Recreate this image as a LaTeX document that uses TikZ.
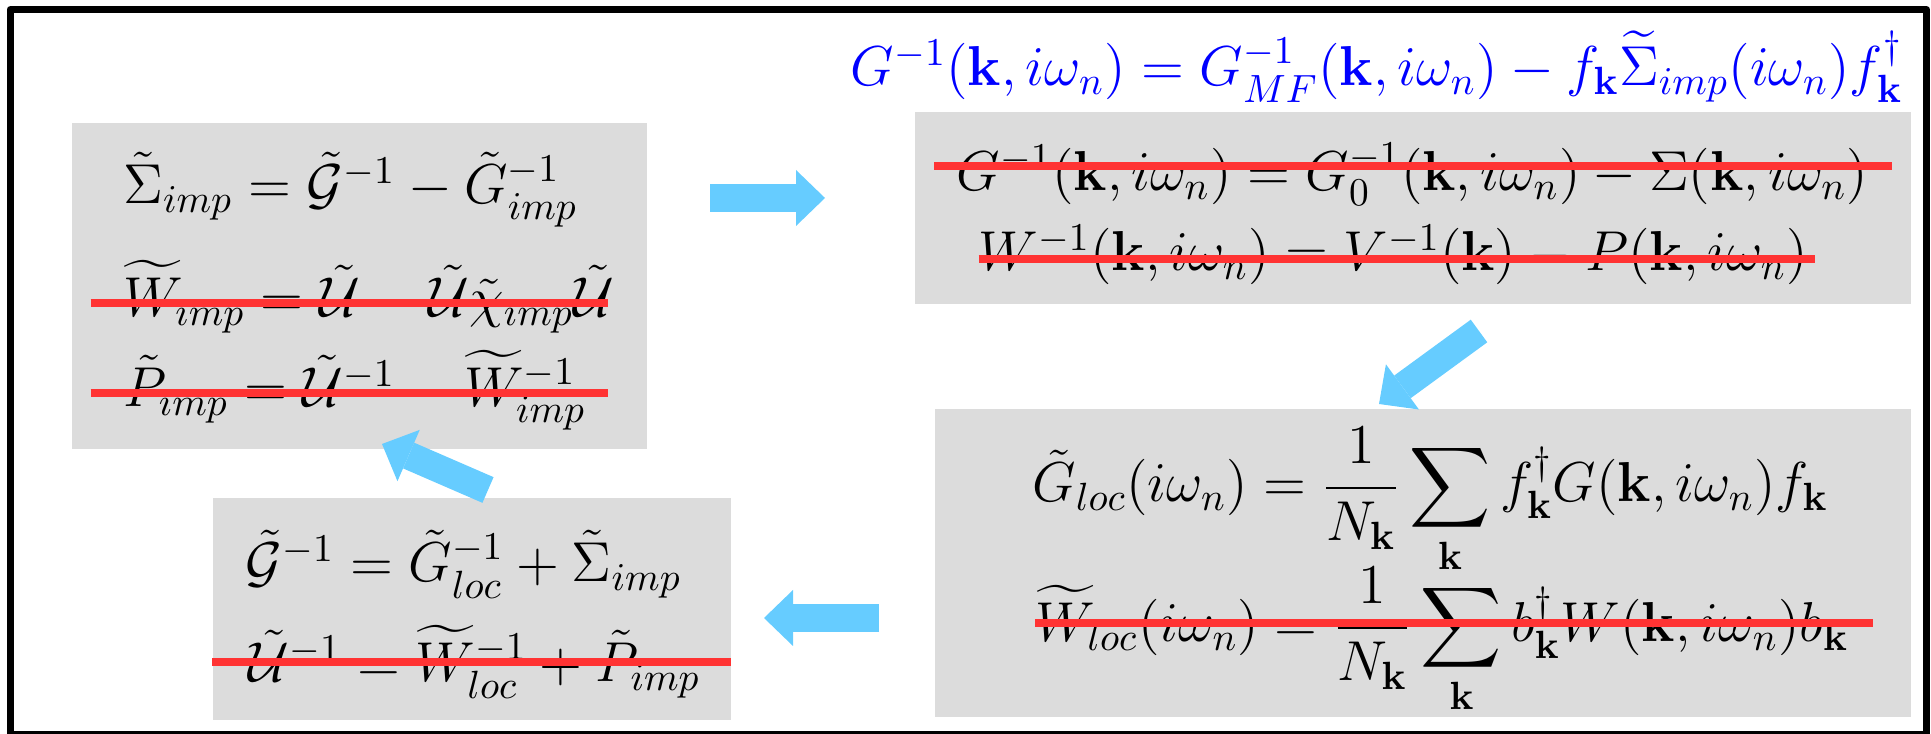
\RequirePackage{fix-cm}
\documentclass[tikz,border=0pt]{standalone}
\usepackage{amsmath,amssymb}
\usepackage{tikz}
\usetikzlibrary{arrows.meta,positioning,calc}
\usepackage{xcolor}
\definecolor{boxgray}{HTML}{DCDCDC}
\definecolor{strikered}{HTML}{FF3333}
\definecolor{flowblue}{HTML}{66CCFF}
\definecolor{eqblue}{HTML}{0000FF}
\newcommand{\kk}{\mathbf{k}}
\newcommand{\eqfont}{\fontsize{16}{19}\selectfont}

\begin{document}
\begin{tikzpicture}[
    box/.style={fill=boxgray,inner sep=0pt,anchor=north west},
    eq/.style={inner sep=0pt,anchor=base west,font=\eqfont},
    strike/.style={draw=strikered,line width=0.08cm},
    flow/.style={draw=flowblue,line width=0.28cm,-{Triangle[length=0.29cm,width=0.56cm,line width=0pt]}}
]
\useasboundingbox (0,0) rectangle (19.31,-7.34);
\draw[line width=0.07cm,line join=round] (0.10,-0.097) rectangle (19.265,-7.345);
% boxes
\node[box,minimum width=5.744cm,minimum height=3.256cm] (imp) at (0.716,-1.227) {};
\node[box,minimum width=9.96cm,minimum height=1.92cm] (lattice) at (9.14,-1.11) {};
\node[box,minimum width=9.76cm,minimum height=3.08cm] (local) at (9.34,-4.08) {};
\node[box,minimum width=5.18cm,minimum height=2.22cm] (weiss) at (2.12,-4.97) {};
% lattice Dyson equation
\node[eq,anchor=base east,text=eqblue] (dyson) at ([shift={(-0.08,0.25)}]lattice.north east)
  {$G^{-1}(\kk,i\omega_n) = G^{-1}_{MF}(\kk,i\omega_n) - f_{\kk}\widetilde{\Sigma}_{imp}(i\omega_n)f^{\dagger}_{\kk}$};
% impurity box
\node[eq] (imp1) at ([shift={(0.51,-0.81)}]imp.north west) {$\tilde{\Sigma}_{imp} = \tilde{\mathcal{G}}^{-1} - \tilde{G}^{-1}_{imp}$};
\node[eq] (imp2) at ([shift={(0.51,-1.94)}]imp.north west) {$\widetilde{W}_{imp} = \tilde{\mathcal{U}} - \tilde{\mathcal{U}}\tilde{\chi}_{imp}\tilde{\mathcal{U}}$};
\node[eq] (imp3) at ([shift={(0.51,-2.84)}]imp.north west) {$\tilde{P}_{imp} = \tilde{\mathcal{U}}^{-1} - \widetilde{W}^{-1}_{imp}$};
% lattice box
\node[eq] (lat1) at ([shift={(0.42,-0.80)}]lattice.north west) {$G^{-1}(\kk,i\omega_n) = G^{-1}_{0}(\kk,i\omega_n) - \Sigma(\kk,i\omega_n)$};
\node[eq] (lat2) at ([shift={(0.64,-1.60)}]lattice.north west) {$W^{-1}(\kk,i\omega_n) = V^{-1}(\kk) - P(\kk,i\omega_n)$};
% local box
\node[eq] (loc1) at ([shift={(0.98,-0.94)}]local.north west) {$\displaystyle \tilde{G}_{loc}(i\omega_n) = \frac{1}{N_{\kk}}\sum_{\kk} f^{\dagger}_{\kk}G(\kk,i\omega_n)f_{\kk}$};
\node[eq] (loc2) at ([shift={(1.01,-2.34)}]local.north west) {$\displaystyle \widetilde{W}_{loc}(i\omega_n) = \frac{1}{N_{\kk}}\sum_{\kk} b^{\dagger}_{\kk}W(\kk,i\omega_n)b_{\kk}$};
% weiss box
\node[eq] (wei1) at ([shift={(0.33,-0.85)}]weiss.north west) {$\tilde{\mathcal{G}}^{-1} = \tilde{G}^{-1}_{loc} + \tilde{\Sigma}_{imp}$};
\node[eq] (wei2) at ([shift={(0.36,-1.85)}]weiss.north west) {$\tilde{\mathcal{U}}^{-1} = \widetilde{W}^{-1}_{loc} + \tilde{P}_{imp}$};
% struck out lines
\draw[strike] ([shift={(0.19,-1.80)}]imp.north west) -- ([shift={(5.36,-1.80)}]imp.north west);
\draw[strike] ([shift={(0.19,-2.70)}]imp.north west) -- ([shift={(5.36,-2.70)}]imp.north west);
\draw[strike] ([shift={(0.20,-0.55)}]lattice.north west) -- ([shift={(9.78,-0.55)}]lattice.north west);
\draw[strike] ([shift={(0.645,-1.48)}]lattice.north west) -- ([shift={(9.01,-1.48)}]lattice.north west);
\draw[strike] ([shift={(1.01,-2.15)}]local.north west) -- ([shift={(9.39,-2.15)}]local.north west);
\draw[strike] ([yshift=-1.65cm]weiss.north west) -- ([yshift=-1.65cm]weiss.north east);
% loop arrows
\coordinate (a1) at (7.10,-1.98);
\coordinate (b1) at (8.25,-1.98);
\coordinate (a2) at (14.79,-3.31);
\coordinate (b2) at (13.79,-4.04);
\coordinate (a3) at (8.79,-6.18);
\coordinate (b3) at (7.64,-6.18);
\coordinate (a4) at (4.88,-4.90);
\coordinate (b4) at (3.82,-4.44);
\draw[flow] (a1) -- (b1);
\draw[flow] (a2) -- (b2);
\draw[flow] (a3) -- (b3);
\draw[flow] (a4) -- (b4);
\end{tikzpicture}
\end{document}
